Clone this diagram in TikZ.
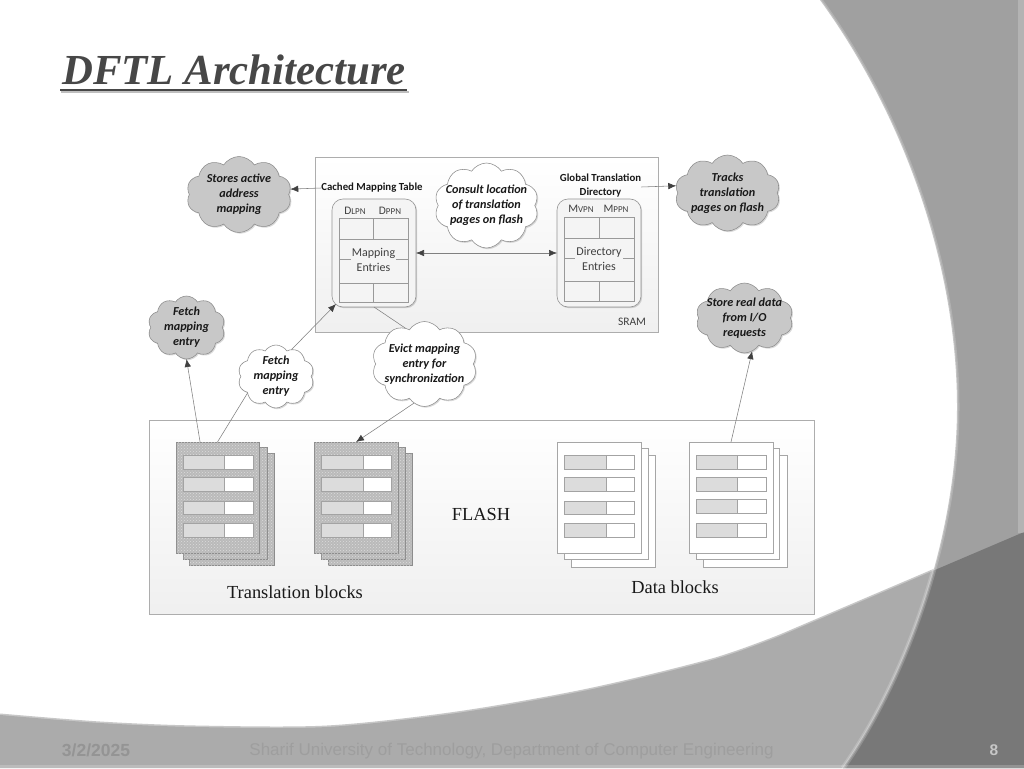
\documentclass[tikz,border=0pt]{standalone}
\usepackage{fontspec}
\setmainfont{Carlito}
\newfontfamily\serifface{Liberation Serif}
\newfontfamily\footface{Liberation Sans}
\usetikzlibrary{shapes.symbols,shadows,patterns,arrows.meta,calc}
\definecolor{bottomgray}{HTML}{ABABAB}
\definecolor{topgray}{HTML}{A0A0A0}
\definecolor{darkgray}{HTML}{787878}
\definecolor{linegray}{HTML}{808080}
\definecolor{tipgray}{HTML}{404040}
\definecolor{cloudgray}{HTML}{C8C8C8}
\definecolor{cellgray}{HTML}{F4F4F4}
\definecolor{rowgray}{HTML}{DCDCDC}
\definecolor{pagegray}{HTML}{BABABA}
\tikzset{
  softshadow/.style={general shadow={shadow xshift=1.2pt,shadow yshift=-1.2pt,fill=black,opacity=.15}},
  panel/.style={draw=black!32,line width=.7pt,top color=white,bottom color=black!6,inner sep=0pt,outer sep=0pt,softshadow},
  tablebox/.style={draw=black!42,line width=.6pt,fill=cellgray,rounded corners=11pt,inner sep=0pt,outer sep=0pt,softshadow},
  cloudbase/.style={cloud,cloud puffs=10,cloud puff arc=115,cloud ignores aspect,draw=black!45,line width=.55pt,align=center,inner xsep=-12pt,inner ysep=-8pt,outer sep=0pt,text=black!90,font=\bfseries\itshape\fontsize{12.2}{15}\selectfont,softshadow},
  graycloud/.style={cloudbase,fill=cloudgray},
  whitecloud/.style={cloudbase,fill=white},
  headtext/.style={font=\bfseries\fontsize{10.8}{14}\selectfont,align=center,inner sep=0pt,text=black!90},
  coltext/.style={font=\fontsize{11.5}{14}\selectfont,inner sep=0pt,text=black!75},
  celltext/.style={font=\fontsize{12}{14.5}\selectfont,align=center,inner sep=1pt,fill=cellgray,text=black!75},
  flashtext/.style={font=\serifface\fontsize{18.4}{20}\selectfont,inner sep=0pt,text=black!90},
  footertext/.style={font=\footface\fontsize{17}{18}\selectfont,inner sep=0pt},
  conn/.style={draw=linegray,line width=.55pt},
  tip/.style={conn,-{Latex[length=8pt,width=6.5pt,color=tipgray]}},
  duotip/.style={conn,{Latex[length=8pt,width=6.5pt,color=tipgray]}-{Latex[length=8pt,width=6.5pt,color=tipgray]}},
  gridline/.style={draw=black!40,line width=.6pt},
  plainpage/.style={draw=black!35,line width=.6pt,fill=white,inner sep=0pt,outer sep=0pt,softshadow},
  dotpage/.style={draw=black!45,line width=.6pt,fill=pagegray,inner sep=0pt,outer sep=0pt,softshadow},
}
% name, style, x1, y1, x2, y2
\newcommand\boxnode[6]{\node[#2,minimum width={(#5-(#3))*1pt},minimum height={(#6-(#4))*1pt}] (#1) at ({(#3+#5)/2},{(#4+#6)/2}) {};}
\newcommand\dotpatch[4]{\fill[pattern=crosshatch dots,pattern color=black!3!white,opacity=.55] (#1,#2) rectangle (#3,#4);}
% x-left, split, x-right, y1, y2
\newcommand\slotrow[5]{\fill[rowgray] (#1,#4) rectangle (#2,#5);\fill[white] (#2,#4) rectangle (#3,#5);\draw[draw=black!36,line width=.6pt] (#1,#4) rectangle (#3,#5) (#2,#4) -- (#2,#5);}
\newcommand\slotrows[3]{\slotrow{#1}{#2}{#3}{455}{469}\slotrow{#1}{#2}{#3}{477}{491}\slotrow{#1}{#2}{#3}{501}{514}\slotrow{#1}{#2}{#3}{523}{537}}
\def\arcpath{(820,0) .. controls (900,110) and (957,260) .. (957,407) .. controls (957,540) and (905,680) .. (843,768)}
\def\lowpts{(0,715)(100,723)(196,727)(327,727)(457,713)(588,690)(712,660)(780,636)}
\begin{document}
\begin{tikzpicture}[x=1pt,y=-1pt]
\useasboundingbox (0,0) rectangle (1024,768);
\fill[white] (0,0) rectangle (1024,768);
% slide background
\draw[black!22,line width=3pt] plot[smooth] coordinates {\lowpts} -- (1024,532);
\fill[bottomgray] plot[smooth] coordinates {\lowpts} -- (1024,532) -- (1024,768) -- (0,768) -- cycle;
\fill[topgray] \arcpath -- (1024,768) -- (1024,0) -- cycle;
\begin{scope}
  \clip \arcpath -- (1024,768) -- (1024,0) -- cycle;
  \fill[darkgray] (780,636) -- (1024,532) -- (1024,768) -- (780,768) -- cycle;
\end{scope}
\fill[white,opacity=.2] (1018,0) rectangle (1024,533);
\fill[white,opacity=.2] (0,765) rectangle (1024,768);
\draw[white,opacity=.18,line width=5pt] \arcpath;
\draw[white,opacity=.25,line width=2pt] \arcpath;
% title
\node[anchor=base west,inner sep=0pt,text=black!72,font=\serifface\bfseries\itshape\fontsize{42.8}{44}\selectfont] (title) at (62,84) {DFTL Architecture};
\fill[black!25] (61,90.5) rectangle (409,92.5);
\fill[black!72] (60,89) rectangle (407,91);
% panels
\boxnode{sram}{panel}{315}{157}{658}{332}
\boxnode{flash}{panel}{149}{420}{814}{614}
% cached mapping table
\boxnode{cmtbox}{tablebox}{332}{199}{416}{307}
\draw[gridline] (339,218) rectangle (408,302);
\draw[gridline] (339,239) -- (408,239) (339,259) -- (408,259) (339,283) -- (408,283) (373.5,218) -- (373.5,239) (373.5,283) -- (373.5,302);
\node[celltext] (mapent) at (373.5,260) {Mapping\\Entries};
\node[headtext] (cmt) at (372,188) {Cached Mapping Table};
\node[coltext] (dlpn) at (355,211) {D{\fontsize{9}{10}\selectfont LPN}};
\node[coltext] (dppn) at (390,211) {D{\fontsize{9}{10}\selectfont PPN}};
% global translation directory
\boxnode{gtdbox}{tablebox}{557}{199}{641}{307}
\draw[gridline] (564,217) rectangle (634,301);
\draw[gridline] (564,238) -- (634,238) (564,258) -- (634,258) (564,281) -- (634,281) (599,217) -- (599,238) (599,281) -- (599,301);
\node[celltext] (dirent) at (599,259) {Directory\\Entries};
\node[headtext] (gtd) at (600.5,186) {Global Translation\\Directory};
\node[coltext] (mvpn) at (581,209) {M{\fontsize{9}{10}\selectfont VPN}};
\node[coltext] (mppn) at (616,209) {M{\fontsize{9}{10}\selectfont PPN}};
\node[coltext] (sramlabel) at (632,322) {SRAM};
% translation block 1
\boxnode{tb1c}{dotpage}{189}{453}{274}{565}\dotpatch{189}{453}{274}{565}
\boxnode{tb1b}{dotpage}{183}{447}{267}{559}\dotpatch{183}{447}{267}{559}
\boxnode{tb1a}{dotpage}{176}{442}{259}{553}\dotpatch{176}{442}{259}{553}
\slotrows{183}{224}{253}
% translation block 2
\boxnode{tb2c}{dotpage}{328}{453}{412}{565}\dotpatch{328}{453}{412}{565}
\boxnode{tb2b}{dotpage}{321}{447}{405}{559}\dotpatch{321}{447}{405}{559}
\boxnode{tb2a}{dotpage}{314}{442}{398}{553}\dotpatch{314}{442}{398}{553}
\slotrows{321}{363}{391}
% data block 1
\boxnode{db1c}{plainpage}{571}{455}{655}{567}
\boxnode{db1b}{plainpage}{564}{448}{648}{559}
\boxnode{db1a}{plainpage}{557}{442}{641}{553}
\slotrows{564}{606}{634}
% data block 2
\boxnode{db2c}{plainpage}{703}{455}{787}{567}
\boxnode{db2b}{plainpage}{696}{448}{779}{559}
\boxnode{db2a}{plainpage}{689}{442}{773}{553}
\slotrow{696}{737}{766}{455}{469}\slotrow{696}{737}{766}{477}{491}\slotrow{696}{737}{766}{499}{513}\slotrow{696}{737}{766}{523}{537}
% flash labels
\node[flashtext] (flashlabel) at (481,514) {FLASH};
\node[flashtext] (tblabel) at (295,592) {Translation blocks};
\node[flashtext] (dblabel) at (675,587) {Data blocks};
% clouds
\node[graycloud,minimum width=105pt,minimum height=76pt] (stores) at (239,194.5) {Stores active\\address\\mapping};
\node[whitecloud,minimum width=104pt,minimum height=85pt] (consult) at (486.5,205.5) {Consult location\\of translation\\pages on flash};
\node[graycloud,minimum width=105pt,minimum height=76pt] (tracks) at (727.5,193) {Tracks\\translation\\pages on flash};
\node[graycloud,minimum width=77pt,minimum height=63pt] (fetchg) at (186.5,327.5) {Fetch\\mapping\\entry};
\node[whitecloud,minimum width=76pt,minimum height=63pt] (fetchw) at (276,376.5) {Fetch\\mapping\\entry};
\node[whitecloud,minimum width=105pt,minimum height=85pt] (evict) at (424.5,364) {Evict mapping\\entry for\\synchronization};
\node[graycloud,minimum width=97pt,minimum height=70pt] (store) at (744.5,318) {Store real data\\from I/O\\requests};
% connectors
\draw[tip] (cmt.west) -- (stores.6);
\draw[tip] (gtd.east |- 0,187) -- (tracks.172);
\draw[duotip] (cmtbox.east) -- (gtdbox.west);
\draw[tip] ($(tb1a.north west)!.29!(tb1a.north east)$) -- (fetchg.south);
\draw[conn] ($(tb1a.north west)!.5!(tb1a.north east)$) -- (fetchw.210);
\draw[tip] (fetchw.60) -- ($(cmtbox.south west)+(4,-3)$);
\draw[conn] (cmtbox.south) -- (evict.118);
\draw[tip] (evict.-105) -- (tb2a.north);
\draw[tip] ($(db2a.north west)!.5!(db2a.north east)$) -- (store.-77);
% footer
\node[footertext,font=\footface\bfseries\fontsize{17.5}{18}\selectfont,text=black!42] (date) at (96,750.5) {3/2/2025};
\node[footertext,text=black!38] (footer) at (511.5,751) {Sharif University of Technology, Department of Computer Engineering};
\node[footertext,font=\footface\bfseries\fontsize{15.5}{18}\selectfont,text=black!22] (pageno) at (994,750) {8};
\end{tikzpicture}
\end{document}
